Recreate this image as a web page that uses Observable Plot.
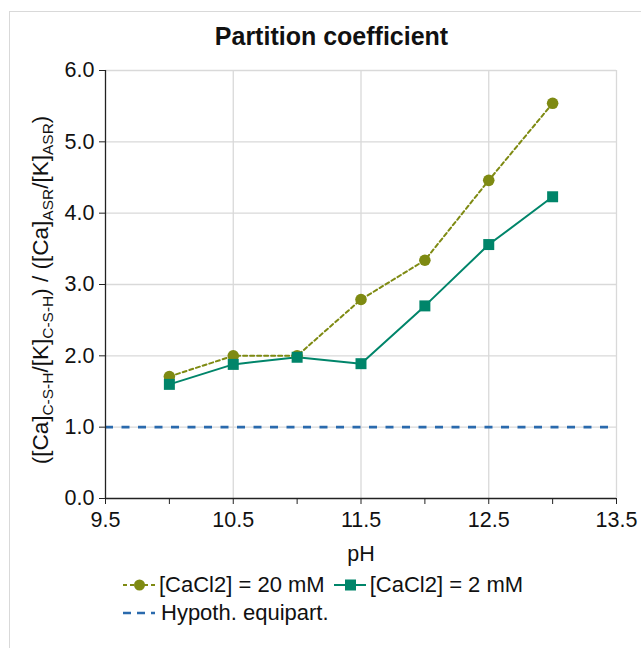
<!DOCTYPE html>
<html>
<head>
<meta charset="utf-8">
<script src="https://cdn.jsdelivr.net/npm/d3@7"></script>
<script src="https://cdn.jsdelivr.net/npm/@observablehq/plot@0.6"></script>
<style>
  html, body { margin: 0; padding: 0; background: #fff; }
  #wrap { position: relative; width: 641px; height: 648px; overflow: hidden; font-family: "Liberation Sans", Arial, sans-serif; color: #111; }
  #frame { position: absolute; left: 9px; top: 11px; width: 700px; height: 700px; border: 1.5px solid #d9d9d9; box-sizing: border-box; }
  #title { position: absolute; left: 0; top: 22px; width: 663px; text-align: center; font-weight: bold; font-size: 25px; }
  #chart { position: absolute; left: 0; top: 60px; width: 641px; }
  #chart svg { max-width: none; }
  #chart svg text { font-family: "Liberation Sans", Arial, sans-serif; }
  #legend { position: absolute; left: 122px; top: 571px; font-size: 22px; }
  .row { display: flex; align-items: center; height: 28px; white-space: nowrap; }
  .row svg { display: block; margin-right: 2px; }
</style>
</head>
<body>
<div id="wrap">
  <div id="frame"></div>
  <div id="title">Partition coefficient</div>
  <div id="chart"></div>
  <div id="legend"></div>
</div>
<script>
// ---- data ----
const ph = [10, 10.5, 11, 11.5, 12, 12.5, 13];
const ca20mM = [1.71, 2.00, 2.00, 2.79, 3.34, 4.46, 5.54];
const ca2mM = [1.60, 1.88, 1.98, 1.89, 2.70, 3.56, 4.23];
const equipart = [1.0];
const seriesNames = ["[CaCl2] = 20 mM", "[CaCl2] = 2 mM", "Hypoth. equipart."];
const xTickAll = [9.5, 10, 10.5, 11, 11.5, 12, 12.5, 13, 13.5];
const xTickLabels = [9.5, 10.5, 11.5, 12.5, 13.5];
const yTicks = [0, 1, 2, 3, 4, 5, 6];
const xLabel = "pH";

// ---- styles ----
const cOlive = "#7e8a12";
const cTeal = "#00856a";
const cBlue = "#2a6aad";
const cGrid = "#d9d9d9";
const fs = 21.5;

const d20 = ph.map((x, i) => ({ph: x, v: ca20mM[i]}));
const d2 = ph.map((x, i) => ({ph: x, v: ca2mM[i]}));

const chart = Plot.plot({
  width: 641,
  height: 498,
  marginLeft: 105,
  marginRight: 25,
  marginTop: 10,
  marginBottom: 60,
  style: {fontSize: fs + "px", color: "#111", background: "transparent", overflow: "visible"},
  x: {domain: [9.5, 13.5]},
  y: {domain: [0, 6]},
  marks: [
    Plot.gridX(xTickLabels.filter(d => d !== 9.5), {stroke: cGrid, strokeOpacity: 1, strokeWidth: 1.3}),
    Plot.gridY(yTicks.filter(d => d !== 0), {stroke: cGrid, strokeOpacity: 1, strokeWidth: 1.3}),
    Plot.ruleY(equipart, {stroke: cBlue, strokeWidth: 2.6, strokeDasharray: "8,8.5"}),
    Plot.ruleY([0], {stroke: "#222", strokeWidth: 1.3}),
    Plot.ruleX([9.5], {stroke: "#222", strokeWidth: 1.3}),
    Plot.axisX({ticks: xTickAll, tickSize: 6, tickFormat: () => "", stroke: "#222", label: null}),
    Plot.axisX({ticks: xTickLabels, tickSize: 0, tickPadding: 13, tickFormat: d => d.toFixed(1),
      label: xLabel, labelAnchor: "center", labelArrow: "none", labelOffset: 62}),
    Plot.axisY({ticks: yTicks, tickSize: 6, tickPadding: 5, tickFormat: d => d.toFixed(1), stroke: "#222", label: null}),
    Plot.line(d20, {x: "ph", y: "v", stroke: cOlive, strokeWidth: 2, strokeDasharray: "4,3"}),
    Plot.line(d2, {x: "ph", y: "v", stroke: cTeal, strokeWidth: 2}),
    Plot.dot(d20, {x: "ph", y: "v", r: 5.8, fill: cOlive, symbol: "circle"}),
    Plot.dot(d2, {x: "ph", y: "v", r: 6.2, fill: cTeal, symbol: "square"})
  ]
});
document.getElementById("chart").appendChild(chart);

// force axis text sizes
const svg = d3.select(chart);
svg.selectAll("text").style("font-size", fs + "px").attr("fill", "#111");

// y-axis label with subscripts
const cy = 230;
const t = svg.append("text")
  .attr("transform", `translate(48,${cy}) rotate(-90)`)
  .attr("text-anchor", "middle")
  .attr("fill", "#111")
  .style("font-size", "22.5px");
const parts = [
  ["([Ca]", false], ["C-S-H", true], ["/[K]", false], ["C-S-H", true],
  [") / ([Ca]", false], ["ASR", true], ["/[K]", false], ["ASR", true], [")", false]
];
let prevSub = false;
parts.forEach(([s, sub]) => {
  const ts = t.append("tspan").text(s);
  if (sub) { ts.style("font-size", "15.5px"); if (!prevSub) ts.attr("dy", 5); }
  else if (prevSub) ts.attr("dy", -5);
  prevSub = sub;
});

// legend
const legend = d3.select("#legend");
function swatch(row, color, dash, symbol, width) {
  const s = row.append("svg").attr("width", width).attr("height", 20);
  s.append("line").attr("x1", 1).attr("x2", width - 2).attr("y1", 10).attr("y2", 10)
    .attr("stroke", color).attr("stroke-width", symbol ? 2 : 2.6)
    .attr("stroke-dasharray", dash);
  if (symbol === "circle") s.append("circle").attr("cx", width / 2).attr("cy", 10).attr("r", 5.5).attr("fill", color);
  if (symbol === "square") s.append("rect").attr("x", width / 2 - 5.5).attr("y", 4.5).attr("width", 11).attr("height", 11).attr("fill", color);
}
const r1 = legend.append("div").attr("class", "row");
swatch(r1, cOlive, "4,3", "circle", 35);
r1.append("span").text(seriesNames[0]).style("margin-right", "8px");
swatch(r1, cTeal, null, "square", 35);
r1.append("span").text(seriesNames[1]);
const r2 = legend.append("div").attr("class", "row");
swatch(r2, cBlue, "8,6", null, 35);
r2.append("span").text(seriesNames[2]).style("margin-left", "2px");
</script>
</body>
</html>
